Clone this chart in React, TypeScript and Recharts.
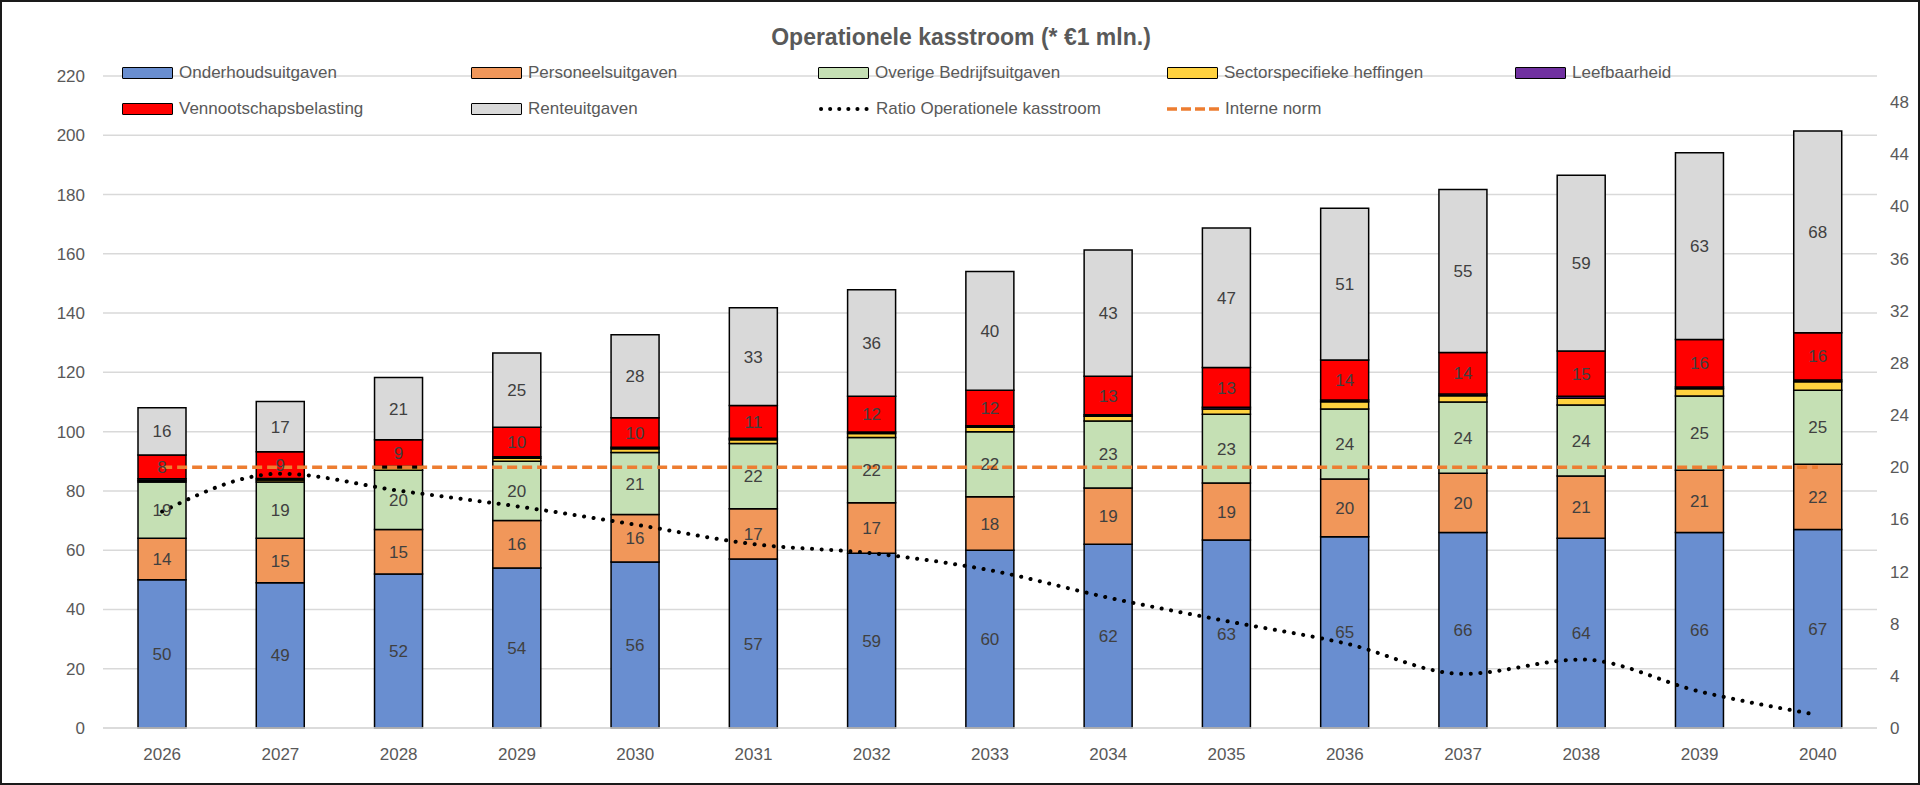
import { ComposedChart, Bar, Line, XAxis, YAxis, CartesianGrid, LabelList } from 'recharts';

const years = ['2026', '2027', '2028', '2029', '2030', '2031', '2032', '2033', '2034', '2035', '2036', '2037', '2038', '2039', '2040'];

const onderhoud = [50, 49, 52, 54, 56, 57, 59, 60, 62, 63.4, 64.5, 66, 64, 66, 67];
const personeel = [14, 15, 15, 16, 16, 17, 17, 18, 19, 19.3, 19.5, 20, 21, 21, 22];
const overige = [19, 19, 20, 20, 21, 22, 22, 22, 22.6, 23.2, 23.6, 24, 24, 25, 25];
const sector = [0.5, 0.7, 0.8, 1.0, 1.2, 1.3, 1.4, 1.5, 1.6, 1.7, 2.5, 2.1, 2.3, 2.5, 2.8];
const leefbaarheid = [0.6, 0.5, 0.5, 0.5, 0.5, 0.5, 0.5, 0.5, 0.5, 0.6, 0.6, 0.6, 0.6, 0.6, 0.6];
const vpb = [8, 9, 9, 10, 10, 11, 12, 12, 13, 13.4, 13.5, 14, 15.3, 16, 16];
const rente = [16, 17, 21, 25, 28, 33, 36, 40, 42.6, 47.1, 51.2, 55, 59.3, 63, 68];
const ratio = [16.6, 19.5, 18.2, 17.0, 15.6, 14.1, 13.4, 12.1, 10.0, 8.2, 6.5, 4.15, 5.25, 2.8, 1.0];
const interneNorm = [20, 20, 20, 20, 20, 20, 20, 20, 20, 20, 20, 20, 20, 20, 20];

const leftTicks = [0, 20, 40, 60, 80, 100, 120, 140, 160, 180, 200, 220];
const rightTicks = [0, 4, 8, 12, 16, 20, 24, 28, 32, 36, 40, 44, 48];

const data = years.map((year, i) => ({
  year,
  onderhoud: onderhoud[i],
  personeel: personeel[i],
  overige: overige[i],
  sector: sector[i],
  leefbaarheid: leefbaarheid[i],
  vpb: vpb[i],
  rente: rente[i],
  ratio: ratio[i],
  norm: interneNorm[i],
}));

const FONT = '"Liberation Sans", Arial, sans-serif';
const TEXT = '#595959';
const LABEL = '#404040';

const bars = [
  { key: 'onderhoud', name: 'Onderhoudsuitgaven', fill: '#698ED0', label: true },
  { key: 'personeel', name: 'Personeelsuitgaven', fill: '#F1975A', label: true },
  { key: 'overige', name: 'Overige Bedrijfsuitgaven', fill: '#C5E0B4', label: true },
  { key: 'sector', name: 'Sectorspecifieke heffingen', fill: '#FFD23F', label: false },
  { key: 'leefbaarheid', name: 'Leefbaarheid', fill: '#7030A0', label: false },
  { key: 'vpb', name: 'Vennootschapsbelasting', fill: '#FF0000', label: true },
  { key: 'rente', name: 'Renteuitgaven', fill: '#D9D9D9', label: true },
];

// legend layout as in the reference: two rows, five columns
const legendRows = [
  ['onderhoud', 'personeel', 'overige', 'sector', 'leefbaarheid'],
  ['vpb', 'rente', 'ratio', 'norm'],
];
const legendCols = [122, 471, 818, 1167, 1515];
const legendRowY = [73, 109];

function LegendSwatch({ id }: { id: string }) {
  if (id === 'ratio') {
    return (
      <svg width={52} height={12} style={{ display: 'block' }}>
        <line x1={3} y1={6} x2={50} y2={6} stroke="#000" strokeWidth={4} strokeDasharray="0.1 9" strokeLinecap="round" />
      </svg>
    );
  }
  if (id === 'norm') {
    return (
      <svg width={52} height={12} style={{ display: 'block' }}>
        <line x1={0} y1={6} x2={52} y2={6} stroke="#ED7D31" strokeWidth={3.5} strokeDasharray="10 4" />
      </svg>
    );
  }
  const b = bars.find((x) => x.key === id)!;
  return (
    <div style={{ width: 49, height: 10, background: b.fill, border: '1.5px solid #000', borderRadius: 1 }} />
  );
}

function ChartLegend() {
  const names: Record<string, string> = {
    ratio: 'Ratio Operationele kasstroom',
    norm: 'Interne norm',
  };
  bars.forEach((b) => (names[b.key] = b.name));
  return (
    <>
      {legendRows.map((row, r) =>
        row.map((id, c) => (
          <div
            key={id}
            style={{
              position: 'absolute',
              left: legendCols[c],
              top: legendRowY[r] - 10,
              height: 20,
              display: 'flex',
              alignItems: 'center',
              gap: 6,
              fontFamily: FONT,
              fontSize: 17,
              color: TEXT,
              whiteSpace: 'nowrap',
            }}
          >
            <LegendSwatch id={id} />
            <span>{names[id]}</span>
          </div>
        ))
      )}
    </>
  );
}

export default function App() {
  return (
    <div style={{ position: 'absolute', top: 0, left: 0, width: 1920, height: 785, background: '#fff', overflow: 'hidden' }}>
      <ComposedChart
        width={1920}
        height={785}
        data={data}
        margin={{ top: 76, right: 0, bottom: 17, left: 43 }}
        barSize={48}
      >
        <CartesianGrid vertical={false} stroke="#D9D9D9" strokeWidth={1.5} yAxisId="left" />
        <XAxis
          dataKey="year"
          height={40}
          tickLine={false}
          axisLine={{ stroke: '#D9D9D9', strokeWidth: 1.5 }}
          tickSize={0}
          tickMargin={20}
          tick={{ fill: TEXT, fontSize: 17, fontFamily: FONT }}
          interval={0}
        />
        <YAxis
          yAxisId="left"
          width={60}
          domain={[0, 220]}
          ticks={leftTicks}
          tickLine={false}
          axisLine={false}
          tickSize={0}
          tickMargin={18}
          tick={{ fill: TEXT, fontSize: 17, fontFamily: FONT }}
        />
        <YAxis
          yAxisId="right"
          orientation="right"
          width={43}
          domain={[0, 50]}
          ticks={rightTicks}
          tickLine={false}
          axisLine={false}
          tickSize={0}
          tickMargin={13}
          tick={{ fill: TEXT, fontSize: 17, fontFamily: FONT, textAnchor: 'start' }}
        />
        {bars.map((b) => (
          <Bar
            key={b.key}
            yAxisId="left"
            dataKey={b.key}
            name={b.name}
            stackId="stack"
            fill={b.fill}
            stroke="#000"
            strokeWidth={1.5}
            isAnimationActive={false}
          >
            {b.label && (
              <LabelList
                dataKey={b.key}
                position="center"
                fill={LABEL}
                fontSize={17}
                fontFamily={FONT}
                formatter={(v: number) => Math.round(v)}
              />
            )}
          </Bar>
        ))}
        <Line
          yAxisId="right"
          type="linear"
          dataKey="norm"
          name="Interne norm"
          stroke="#ED7D31"
          strokeWidth={3.5}
          strokeDasharray="10 5"
          dot={false}
          activeDot={false}
          isAnimationActive={false}
        />
        <Line
          yAxisId="right"
          type="monotone"
          dataKey="ratio"
          name="Ratio Operationele kasstroom"
          stroke="#000"
          strokeWidth={4}
          strokeDasharray="0.1 9.5"
          strokeLinecap="round"
          dot={false}
          activeDot={false}
          isAnimationActive={false}
        />
      </ComposedChart>
      <ChartLegend />
      <div
        style={{
          position: 'absolute',
          top: 23,
          left: 0,
          width: 1922,
          textAlign: 'center',
          fontFamily: FONT,
          fontSize: 23,
          fontWeight: 'bold',
          color: TEXT,
          lineHeight: '28px',
        }}
      >
        Operationele kasstroom (* €1 mln.)
      </div>
      <div
        style={{
          position: 'absolute',
          inset: 0,
          border: '2px solid #1a1a1a',
          pointerEvents: 'none',
        }}
      />
    </div>
  );
}
